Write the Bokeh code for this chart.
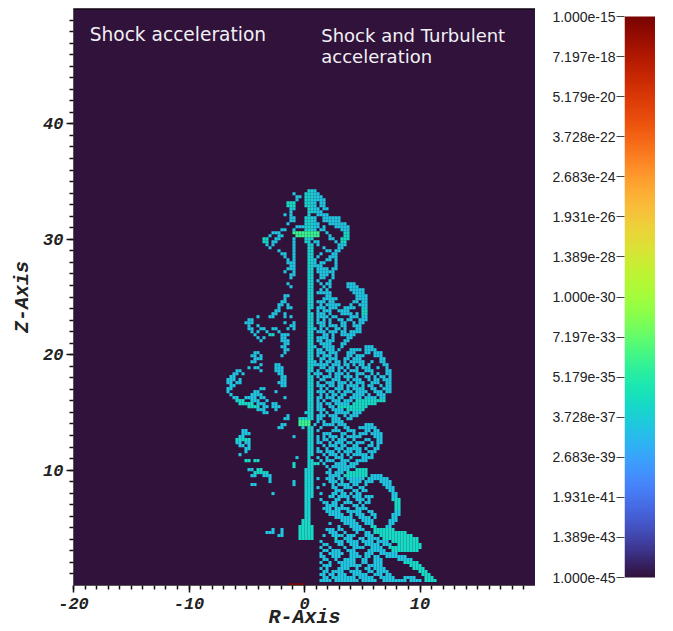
from bokeh.plotting import figure
from bokeh.layouts import row
from bokeh.models import FixedTicker, Span
from bokeh.palettes import Turbo256
from bokeh.core.properties import value
from bokeh.embed import file_html
from bokeh.resources import INLINE
import numpy as np

BG = "#30123b"
# Occupied grid cells, one string per grid row from the top (Z high) down.
# Entries are column runs; suffix g = greener (higher value), l = lime (highest).
grid_rows = [
"", "28-30",
"23 27-31", "24-25 27-32", "24 27-33", "21-23g 27-30 32-33", "21-23g 27-30 32-33", "22-23 28-31 33-34",
"22 28-31 32", "20 22 28 31-34", "22-23 27-30 33-38", "22-23 27-30 33-38", "21 27-31 35-40", "24-26 27-31 33 37-41",
"19-20 23 27-30 32-33 39-41", "16-17 18 23-31l 34 40-41g", "15 18-19 24-31l 35 40-41g", "13-14g 17-18 23 27-29 35-36 39-41g",
"13-14g 16-17 23 27-28 30-31 37 39-40g", "14 16 23 28-29 31 38-40", "15 23 28-29 33 38-39", "18 23 28-29 34-35 37-38",
"19-20 23 28-29 32 36-37", "20 23 28-29 31 35-36 37", "21 23 28-30 34-35 37", "21-22 23 28-30 32-33 37",
"22-23 28-30 31-32 37", "21-22 23 28-29 31-34 36-37", "20 23 28-29 31-35 36", "22-23 28-29 32-34 36",
"22 28-29 32-33 36", "28-29 31 35", "21 28-29 32 34-35 41-43", "22 28-29 33 35 41-44",
"28-29 32 34 42-46", "28-29 31-33 34-35 43-46", "20-21 28-29 34-35 44-47", "20 28-29 33-37 44-47",
"19-20 28-29 31-33 35-36 43-44 46-47", "18-19 21 28-29 32 34-38 42 45-47", "18 21-22 28-29 31-33 35-37 40-43 46-47",
"17-18 28 31 33-35 38-41 46-47g", "16-17 20 28-29 31-33 35 39-42 44 46-47g", "11 15-16 20 22 28-29 31-34 36-37 42-44 46-47",
"8-9 28-29 31 33 35 38-39 41-42 45-47", "7-9 20 23 28-29 31-33 35 39-40 43 45-46", "8 11 22-23 28-29 32-33 35-37 39-40 43-45",
"8-9 12-13 16-17 21 23 28-30 32 34 37-38 40 44-45", "9 11 14 18 28-29 31-33 35-37 39-40 42-45", "10 15-16g 19-21 28-29 33-34 36 39-43",
"11 13 19-20 28-29 31-34 36 41-42", "12 19-21 28-29 31-32 34-36 40-41", "20-21 28-29 32-35 39-40", "19-20 28-30 33-36 39 47-49",
"20-21 28-29 31-32 34-36 38 42-45 47-50", "10-11 20 28-29 31-33 35-37 41-43 47-48 50-52", "9-10 12 19 28-29 31 33-35 37 41-42 44-46 50-52",
"10-12 28-29 32-33 35-37 40-41 43-45 52-53", "9-10 28-30 32 34-35 37-38 40 42-46 49 52-53", "12 17-18 28-30 31-34 36-38 40-41 43 45-46 48 53-54",
"8 10-11 17-19 28-29 32-33 35-36 38-39 41 44 46-48 51 54", "4-5 12 17-19 28-29 31 34-36 38 40 42-44 47-49 54-55",
"3-4 6 18-19 28 30-32 35 37-39 41 44-46 49 51 54-55", "2-3 19-20 28-29 31 33-35 37-38 40-42 44 47-48 50 52-53 55",
"1-3 5 19-20 28-29 32-33 36-38 41 43-45 48 50-51 53-55", "1-2 4-5 18-20 28-29 31 34-36 38-40 42 44-46 49-51 54-55",
"2-3 19-20 28-29 31-33 35-36 38-39 41-44 46 48-49 52 54-55", "1-2 12-13 28-29 32 34 37-39 41 43-46 49-50 53-55",
"1 10-11 17 28-29 31-33 35-36 38 40-42 44-47 50-52 54-55", "2 9-11 12 28-29 32 34 36-37 39-40 43-46 48 51-53",
"3-4 7-10 12-13 20 28-29 31-32 34-36 38-39 42-45 47-50 52-53", "4-6g 9-11 14 28-29 31 33 36-38 40-42 44-53g",
"5-9g 11-13 16-17 28-29 31-32 34-35 37-41 43-50g", "8-11g 13-14 16-18 28-29 31-32 35-36 38-47g", "11-13 17 28-29 31-33 36-39 41-46g",
"13-14 27-29 32 34 37-41 43-45", "21 28-29 31-33 35-37 40 42-44", "20-21 25-26g 27-29 31-32 36-38 41-42",
"25-28l 31 33 36-39", "19-20 25-28l 30 33-36 38-40 47-49", "18-19 26 28-29 32 37 40-41 45-50", "6-7 28-29 31 36-38 41-43 47-48 50-51",
"6-8 28-29 33-35 39-40 43 45-47 49-52", "5-6 23 28-29 31 33 35-37 39 41-45 50-52", "4-8g 28-29 31 33-34 36 38-40 43 47-48 51-52",
"4-5 7-8 28-29 31-32 35 37-39 41-42 44-46 49 51-52", "5-6 8 28-29 33 35-37 39-40 43-44 48-49 51", "7-8 28-29 31 34 37-39 41-45 47 50-51",
"7 28-29 31-32 34-36 38 40-42 44-45 48-50", "5 28-29 33 35-37 39 41 43-47 49", "24 28 31 34 37-39 42 46-49",
"7-8g 10-11g 28-29 32 34-36 39-41 44-47", "23g 28-29 30-31g 33 37-40 42-44", "23g 28-29 34 36-43", "8-9 11-12g 27-29 35 38-41 44-47g",
"10-14g 27-29 34-35 37-39 41-47g", "9-10 13-15 27-29 35-38 40-47g 49-52", "15 27-29 31 34-36 38-39 41-46 48-54", "15 23 27-29 35-37 39 42-45 47-49 52-55",
"9-10 23 27-29 33 36 38-41 43-44 47 53-55", "27-29 31 36-37 40-42 45-46 54-56", "27-29 37-39 43-44 46-47 55-56",
"16 27-29 32 36-37 39-40 42 44-45 56-57", "27-29 35-36 38-41 43-45 47-49 56-57", "27-28 32 37-38 41 44-46 48 56-58g",
"27-28 33-34 36-37 40-42 45 47-48 57-58g", "27-28 34-37 39 43-44 46 57-58g", "27-28 33-35 37-41 44-47 57-58g",
"27-28 34-38 41-45 48-49 57-58", "27-28 35-39 42 44-46 49-50 56-58", "27-28 37-42 45-48 50 56-57", "26-28g 39-43 46-49 55-57",
"26-28g 35 40-44 47-49 55-56", "25-29g 38 42-45 49-50g 54-55", "16 19 25-29g 34-36 38-39 43-46 50-56g", "14-16 19 25-29g 35-37 40 44 47-48 50-60g",
"18-19 25-29g 33 36-39 41-43 47-49 52-62g", "25-29g 37g 40-42 45-46 48-51 53-64g",
"32 37-39 41-44 46-49 51-54 56-64g", "33-34 38-39 42-44 47-51 53-55 58-65g", "32 35 40 43-46 49-52 55-65g", "33-34 36-38 41-43 48-53 56-64g",
"32 35-39 42-44 47-49 52-57", "32-33 36-38 42-45 47-48 50-51 54-60", "33-34 37 40-43 46-47 50-52 58-62", "32 35 38-43 46-47 50-52 60-64g",
"33-35 39-45 48-52 62-65g", "32 34 38-41 44 47-48 50-53 63-66g", "33-34 36-39 42-45 48-49 51-54 65-67g", "32-33 35-36 38-40 43-47 50-52 54-55 66-68g",
"33-34 36-43 45-49 52-56 60-63 67-69g", "32-35 37-44 46-50 53-60 62-65 67-70g",
]
base_log, beam_log, green_log, lime_log = -36.8, -36.1, -35.6, -33.4
level_log = {"": base_log, "g": green_log, "l": lime_log}
red_R, red_Zh, red_w, red_log = -0.7, 0.1, 1.4, -15.5

x_major = [-20, -10, 0, 10]
x_labels = ["-20", "-10", "0", "10"]
z_major = [10, 20, 30, 40]
minor_ticks_x = list(range(-20, 20))
minor_ticks_z = list(range(1, 50))
cb_labels = ["1.000e-45", "1.389e-43", "1.931e-41", "2.683e-39", "3.728e-37", "5.179e-35", "7.197e-33",
             "1.000e-30", "1.389e-28", "1.931e-26", "2.683e-24", "3.728e-22", "5.179e-20", "7.197e-18", "1.000e-15"]
cb_exp = [-45 + i * 30 / 14 for i in range(15)]

CELL = 40 / 154  # grid spacing in axis units
R0, Z0 = -6.883, 34.46

R, Z, C = [], [], []
for r, line in enumerate(grid_rows):
    for run in line.split():
        lvl = run[-1] if run[-1] in "gl" else ""
        a, _, b = run.rstrip("gl").partition("-")
        for c in range(int(a), int(b or a) + 1):
            v = level_log[lvl]
            if not lvl and 27 <= c <= 29:
                v = beam_log
            R.append(R0 + CELL * c)
            Z.append(Z0 - CELL * r)
            C.append(Turbo256[int((v + 45) / 30 * 255)])

p = figure(width=535, height=631, x_range=(-20, 20), y_range=(0, 50), output_backend="svg", toolbar_location=None,
           min_border_left=73, min_border_right=0, min_border_top=8, min_border_bottom=46,
           background_fill_color=BG, border_fill_color="white", outline_line_color=None)
p.grid.visible = False
p.rect(R, Z, CELL * 1.03, CELL * 1.03, fill_color=C, line_color=None)
p.rect([red_R], [red_Zh], [red_w], [0.2], fill_color=Turbo256[255], line_color=None)
p.add_layout(Span(location=50, dimension="width", line_color="black", line_width=2))

for ax, maj, minr in ((p.xaxis[0], x_major, minor_ticks_x), (p.yaxis[0], z_major, minor_ticks_z)):
    ax.ticker = FixedTicker(ticks=maj, minor_ticks=minr)
    ax.major_tick_in = 0
    ax.major_tick_out = 7
    ax.minor_tick_in = 0
    ax.minor_tick_out = 4
    ax.major_tick_line_width = 1.5
    ax.minor_tick_line_width = 1.5
    ax.major_tick_line_color = "#111111"
    ax.minor_tick_line_color = "#111111"
    ax.axis_line_color = "#555555"
    ax.major_label_text_font = "Liberation Mono"
    ax.major_label_text_font_style = "bold italic"
    ax.major_label_text_font_size = "17px"
    ax.major_label_text_color = "#222222"
    ax.axis_label_text_font = "Liberation Mono"
    ax.axis_label_text_font_style = "bold italic"
    ax.axis_label_text_font_size = "20px"
    ax.axis_label_text_color = "#222222"
p.xaxis[0].major_label_overrides = {t: s for t, s in zip(x_major, x_labels)}
p.xaxis[0].axis_label = "R-Axis"
p.yaxis[0].axis_label = "Z-Axis"
p.xaxis[0].major_label_standoff = 5
p.xaxis[0].axis_label_standoff = -6
p.xaxis[0].axis_label_text_baseline = "bottom"
p.yaxis[0].major_label_standoff = 3
p.yaxis[0].axis_label_standoff = 6

font = value("DejaVu Sans")
p.text([-18.6], [47.75], text=["Shock acceleration"], text_color="#f2f0f4", text_font=font, text_font_size="18.6px",
       text_baseline="middle")
p.text([1.45, 1.45], [47.65, 45.8], text=["Shock and Turbulent", "acceleration"], text_color="#f2f0f4", text_font=font,
       text_font_size="18px", text_baseline="middle")

pad = 8 * 30 / 561  # the bar is inset from the plot's frame by 8px at each end
cb = figure(width=120, height=631, x_range=(0, 1), y_range=(-45 - pad, -15 + pad), output_backend="svg",
            toolbar_location=None, min_border_left=89, min_border_right=0, min_border_top=8, min_border_bottom=46,
            outline_line_color=None)
cb.grid.visible = False
cb.xaxis.visible = False
cb.image(image=[np.arange(256).reshape(256, 1)], x=0, y=-45, dw=1, dh=30, palette=Turbo256)
ya = cb.yaxis[0]
ya.ticker = FixedTicker(ticks=cb_exp, minor_ticks=[])
ya.major_label_overrides = {t: s for t, s in zip(cb_exp, cb_labels)}
ya.major_tick_in = 0
ya.major_tick_out = 8
ya.major_tick_line_color = "#444444"
ya.axis_line_color = None
ya.major_label_text_font = "Liberation Sans"
ya.major_label_text_font_size = "14px"
ya.major_label_text_color = "#222222"
ya.major_label_standoff = 1

open("out.html", "w").write(file_html(row(p, cb), INLINE))
